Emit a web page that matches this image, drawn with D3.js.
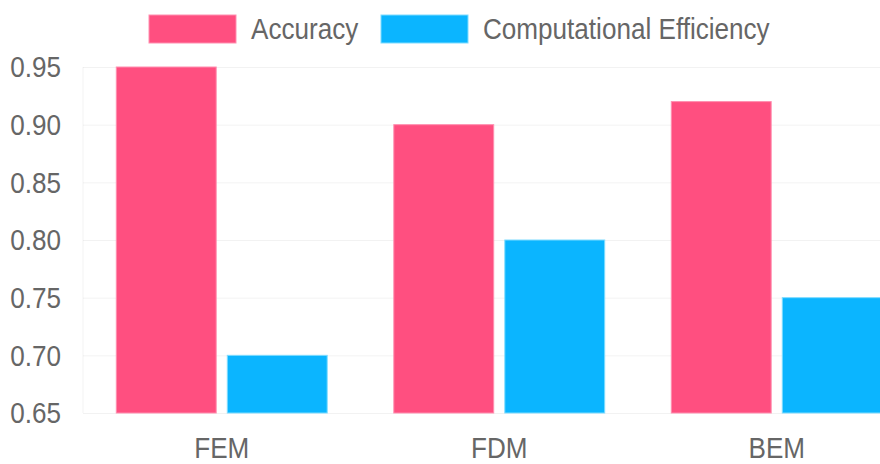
<!DOCTYPE html>
<html>
<head>
<meta charset="utf-8">
<script src="https://cdn.jsdelivr.net/npm/d3@7"></script>
<style>
  body { margin: 0; background: #fff; }
  svg text { font-family: "Liberation Sans", Arial, sans-serif; fill: #666; font-size: 29px; }
  .grid line { stroke: rgba(0,0,0,0.05); }
  .grid path { display: none; }
</style>
</head>
<body>
<svg width="880" height="464"></svg>
<script>
// chart data
var categories = ["FEM", "FDM", "BEM"];
var seriesNames = ["Accuracy", "Computational Efficiency"];
var accuracy = [0.95, 0.90, 0.92];
var efficiency = [0.70, 0.80, 0.75];
var yTicks = [0.65, 0.70, 0.75, 0.80, 0.85, 0.90, 0.95];
var colors = ["#ff4f80", "#0bb5ff"];
var borders = ["#ff8fb0", "#7fdcff"];

var svg = d3.select("svg"),
    margin = {top: 67, left: 83, bottom: 51},
    plotW = 832.5,              // wider than window, right side gets clipped like the original
    height = 464 - margin.top - margin.bottom,
    sx = 0.9;                   // text in the original looks narrow

function place(x, y) { return "translate(" + x + "," + y + ") scale(" + sx + ",1)"; }

var g = svg.append("g").attr("transform", "translate(" + margin.left + "," + margin.top + ")");

var y = d3.scaleLinear().domain([0.65, 0.95]).range([height, 0]);
var x0 = d3.scaleBand().domain(categories).range([0, plotW]);

// faint grid
g.append("g").attr("class", "grid")
  .call(d3.axisLeft(y).tickValues(yTicks).tickSize(-plotW).tickFormat(""));
g.append("line").attr("x1", 0).attr("x2", 0).attr("y1", 0).attr("y2", height)
  .attr("stroke", "rgba(0,0,0,0.05)");

// y labels
g.selectAll(".ylab").data(yTicks).enter().append("text")
  .attr("transform", function(d) { return place(-22, y(d)); })
  .attr("dy", "0.36em").attr("text-anchor", "end")
  .text(function(d) { return d.toFixed(2); });

// x labels
g.selectAll(".xlab").data(categories).enter().append("text")
  .attr("transform", function(d) { return place(x0(d) + x0.bandwidth() / 2, height + 45); })
  .attr("text-anchor", "middle")
  .text(function(d) { return d; });

// bars (chart.js style: category 80%, bar 90%)
var groupW = x0.bandwidth() * 0.8, barW = groupW / 2 * 0.9;
var rows = categories.map(function(c, i) { return {cat: c, vals: [accuracy[i], efficiency[i]]}; });
var grp = g.selectAll(".cat").data(rows).enter().append("g")
  .attr("transform", function(d) { return "translate(" + (x0(d.cat) + x0.bandwidth() / 2 - groupW / 2) + ",0)"; });
grp.selectAll("rect").data(function(d) { return d.vals; }).enter().append("rect")
  .attr("x", function(d, j) { return j * groupW / 2 + (groupW / 2 - barW) / 2; })
  .attr("y", function(d) { return y(d); })
  .attr("width", barW)
  .attr("height", function(d) { return height - y(d); })
  .attr("fill", function(d, j) { return colors[j]; })
  .attr("stroke", function(d, j) { return borders[j]; })
  .attr("stroke-width", 1);

// legend
var legX = [149, 381];
var leg = svg.selectAll(".leg").data(seriesNames).enter().append("g")
  .attr("transform", function(d, i) { return "translate(" + legX[i] + ",15)"; });
leg.append("rect").attr("width", 87).attr("height", 28)
  .attr("fill", function(d, i) { return colors[i]; })
  .attr("stroke", function(d, i) { return borders[i]; });
leg.append("text").attr("transform", place(102, 14))
  .attr("dy", "0.36em")
  .text(function(d) { return d; });
</script>
</body>
</html>
